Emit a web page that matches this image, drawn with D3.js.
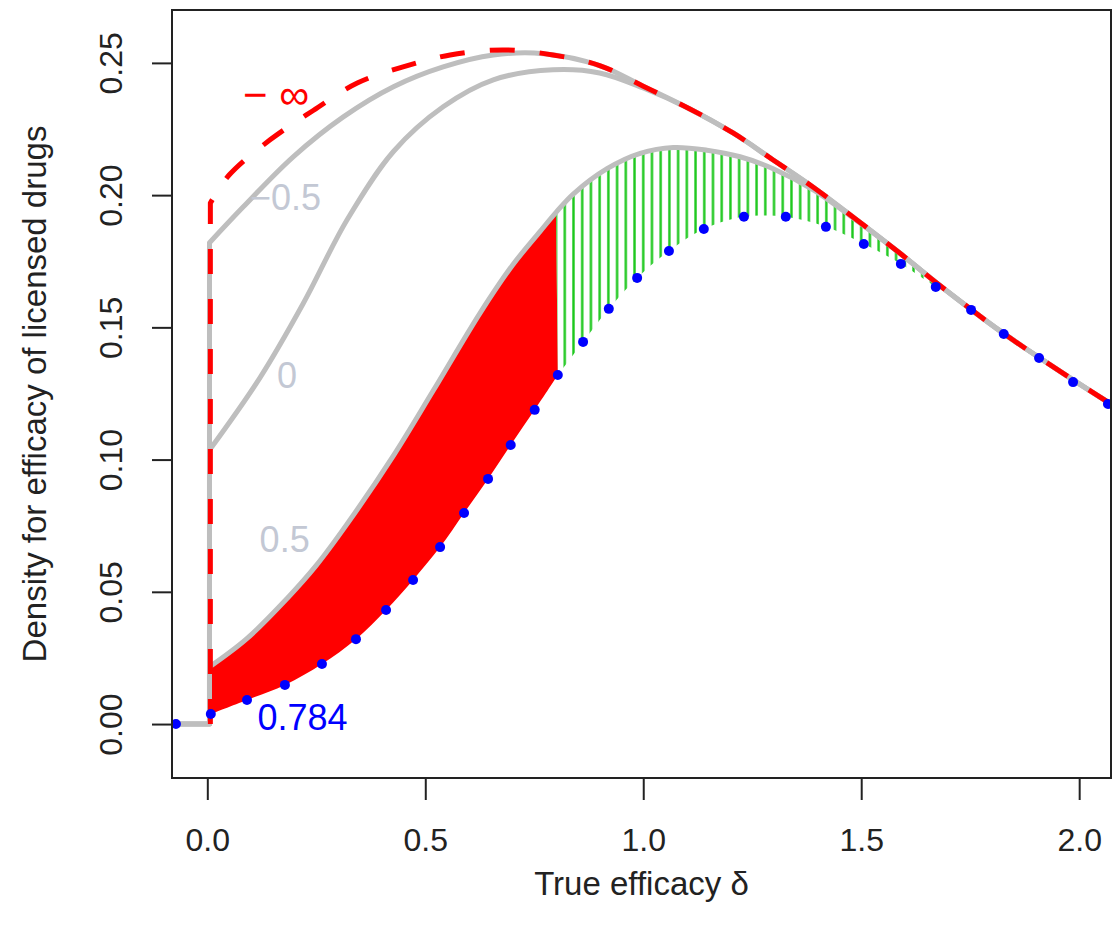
<!DOCTYPE html>
<html>
<head>
<meta charset="utf-8">
<script src="https://cdn.jsdelivr.net/npm/d3@7"></script>
<style>
  body { margin: 0; background: #fff; }
  text { font-family: "Liberation Sans", Arial, Helvetica, sans-serif; }
</style>
</head>
<body>
<div id="chart"></div>
<script>
// curves, [delta, density]; each starts right after the jump at 0
const curveNegInf = [
  [0.007, 0.197], [0.05, 0.2076], [0.144, 0.2209], [0.243, 0.232],
  [0.344, 0.2424], [0.449, 0.2485], [0.557, 0.253], [0.679, 0.2549], [0.793, 0.253],
  [0.9, 0.249], [1.0, 0.2412], [1.107, 0.2326], [1.206, 0.2235], [1.298, 0.2133],
  [1.39, 0.203], [1.49, 0.1906], [1.589, 0.178], [1.673, 0.1668], [1.825, 0.1479],
  [1.979, 0.1309], [2.073, 0.121]
]
const curveNegHalf = [
  [0.005, 0.182], [0.082, 0.1955], [0.197, 0.2145],
  [0.312, 0.2296], [0.427, 0.241], [0.541, 0.2485], [0.656, 0.253], [0.771, 0.2535],
  [0.9, 0.249], [1.0, 0.2412], [1.107, 0.2326], [1.206, 0.2235], [1.298, 0.2133],
  [1.39, 0.203], [1.49, 0.1906], [1.589, 0.178], [1.673, 0.1668], [1.825, 0.1479],
  [1.979, 0.1309], [2.073, 0.121]
]
const curveZero = [
  [0.005, 0.1036], [0.121, 0.131], [0.22, 0.159],
  [0.32, 0.1905], [0.427, 0.2165], [0.541, 0.2334], [0.656, 0.2436], [0.793, 0.2474],
  [0.9, 0.2462], [1.0, 0.2405], [1.107, 0.2326], [1.206, 0.2235], [1.298, 0.2133],
  [1.39, 0.203], [1.49, 0.1906], [1.589, 0.178], [1.673, 0.1668], [1.825, 0.1479],
  [1.979, 0.1309], [2.073, 0.121]
]
const curveHalf = [
  [0.005, 0.0216], [0.09, 0.0322], [0.183, 0.0475], [0.25, 0.060], [0.32, 0.0755],
  [0.427, 0.1015], [0.518, 0.126], [0.626, 0.1555], [0.7, 0.1735], [0.763, 0.1862],
  [0.8, 0.1935], [0.84, 0.2005], [0.917, 0.21], [0.993, 0.2158], [1.069, 0.218],
  [1.146, 0.217], [1.222, 0.2145], [1.298, 0.21], [1.39, 0.202], [1.49, 0.1903],
  [1.589, 0.178], [1.673, 0.1668], [1.825, 0.1479], [1.979, 0.1309], [2.073, 0.121]
]
const points784 = [
  [-0.072, 0], [0.008, 0.0038], [0.091, 0.0091], [0.178, 0.0148], [0.263, 0.0227],
  [0.341, 0.0321], [0.41, 0.0431], [0.472, 0.0545], [0.534, 0.0669], [0.589, 0.0798],
  [0.644, 0.0927], [0.696, 0.1055], [0.751, 0.1188], [0.804, 0.132], [0.862, 0.1445],
  [0.921, 0.157], [0.986, 0.1687], [1.059, 0.1789], [1.139, 0.1872], [1.231, 0.1918],
  [1.327, 0.1918], [1.419, 0.188], [1.506, 0.1815], [1.591, 0.174], [1.671, 0.1653],
  [1.752, 0.1566], [1.827, 0.1475], [1.908, 0.1384], [1.986, 0.1293], [2.066, 0.121]
]
const xTicks = [0, 0.5, 1, 1.5, 2]
const yTicks = [0, 0.05, 0.1, 0.15, 0.2, 0.25]
const redRange = [0.005, 0.804]
const greenRange = [0.8, 1.673]
const hatchStep = 0.02
const flatStart = -0.08

const width = 1113, height = 936
const plot = { left: 172, right: 1111, top: 10, bottom: 778 }

const svg = d3.select('#chart').append('svg')
  .attr('width', width).attr('height', height)

const x = d3.scaleLinear().domain([-0.081, 2.073]).range([plot.left, plot.right])
const y = d3.scaleLinear().domain([-0.0204, 0.27]).range([plot.bottom, plot.top])

const straight = d3.line().x(d => x(d[0])).y(d => y(d[1]))
const smooth = d3.line().x(d => x(d[0])).y(d => y(d[1])).curve(d3.curveCatmullRom.alpha(0.5))
const inRange = (pts, r) => pts.filter(d => d[0] >= r[0] && d[0] <= r[1])

// flat at zero, straight up at delta=0, then the smooth curve
function curvePath(c, from) {
  return straight([[from, 0], [c[0][0], 0], c[0]]) + 'L' + smooth(c).slice(1)
}
function band(top, bottom) {
  return smooth(top) + 'L' + smooth(bottom.slice().reverse()).slice(1) + 'Z'
}

const defs = svg.append('defs')
defs.append('clipPath').attr('id', 'clip').append('rect')
  .attr('x', plot.left).attr('y', plot.top)
  .attr('width', plot.right - plot.left).attr('height', plot.bottom - plot.top)

const step = x(hatchStep) - x(0)
const hatch = defs.append('pattern').attr('id', 'hatch')
  .attr('patternUnits', 'userSpaceOnUse')
  .attr('x', x(greenRange[0]) - step / 2).attr('y', 0)
  .attr('width', step).attr('height', height)
hatch.append('line')
  .attr('x1', step / 2).attr('x2', step / 2).attr('y1', 0).attr('y2', height)
  .attr('stroke', '#1dc81d').attr('stroke-width', 2.4)

const g = svg.append('g').attr('clip-path', 'url(#clip)')

// shaded areas between the 0.5 curve and the 0.784 curve
g.append('path')
  .attr('d', band(inRange(curveHalf, redRange), inRange(points784, redRange)))
  .attr('fill', '#ff0000')
g.append('path')
  .attr('d', band(inRange(curveHalf, greenRange), inRange(points784, greenRange)))
  .attr('fill', 'url(#hatch)')

// grey curves
for (const c of [curveHalf, curveZero, curveNegHalf]) {
  g.append('path').attr('d', curvePath(c, flatStart))
    .attr('fill', 'none').attr('stroke', '#bebebe').attr('stroke-width', 5)
    .attr('stroke-linejoin', 'round')
}

g.append('path').attr('d', curvePath(curveNegInf, curveNegInf[0][0]))
  .attr('fill', 'none').attr('stroke', '#ff0000').attr('stroke-width', 5)
  .attr('stroke-dasharray', '25,25')

g.selectAll('circle').data(points784).enter().append('circle')
  .attr('cx', d => x(d[0])).attr('cy', d => y(d[1])).attr('r', 5)
  .attr('fill', '#0000ff')

// axes
const xAxis = svg.append('g').attr('transform', `translate(0,${plot.bottom})`)
  .call(d3.axisBottom(x).tickValues(xTicks).tickSize(22).tickFormat(d3.format('.1f')))
xAxis.select('.domain').remove()
xAxis.selectAll('line').attr('stroke', '#222').attr('stroke-width', 2)
xAxis.selectAll('text').attr('y', 73).attr('dy', 0)
  .attr('font-size', 32).attr('fill', '#222')

const yAxis = svg.append('g').attr('transform', `translate(${plot.left},0)`)
  .call(d3.axisLeft(y).tickValues(yTicks).tickSize(20).tickFormat(d3.format('.2f')))
yAxis.select('.domain').remove()
yAxis.selectAll('line').attr('stroke', '#222').attr('stroke-width', 2)
yAxis.selectAll('text')
  .attr('transform', 'rotate(-90)')
  .attr('x', 0).attr('y', -50).attr('dy', 0)
  .attr('text-anchor', 'middle')
  .attr('font-size', 32).attr('fill', '#222')

svg.append('rect')
  .attr('x', plot.left).attr('y', plot.top)
  .attr('width', plot.right - plot.left).attr('height', plot.bottom - plot.top)
  .attr('fill', 'none').attr('stroke', '#222').attr('stroke-width', 2)

svg.append('text')
  .attr('x', (plot.left + plot.right) / 2).attr('y', 895)
  .attr('text-anchor', 'middle').attr('font-size', 33).attr('fill', '#222')
  .text('True efficacy δ')

svg.append('text')
  .attr('transform', `translate(46,${(plot.top + plot.bottom) / 2}) rotate(-90)`)
  .attr('text-anchor', 'middle').attr('font-size', 33).attr('fill', '#222')
  .text('Density for efficacy of licensed drugs')

// curve labels
const labels = [
  { text: '− ∞', at: [0.082, 0.2325], color: '#ff0000', size: 42 },
  { text: '−0.5', at: [0.098, 0.1945], color: '#c3c8d4', size: 36 },
  { text: '0', at: [0.16, 0.127], color: '#c3c8d4', size: 36 },
  { text: '0.5', at: [0.12, 0.065], color: '#c3c8d4', size: 36 },
  { text: '0.784', at: [0.115, -0.0023], color: '#0000ff', size: 36 }
]
svg.selectAll('.lab').data(labels).enter().append('text')
  .attr('class', 'lab')
  .attr('x', d => x(d.at[0])).attr('y', d => y(d.at[1]))
  .attr('font-size', d => d.size).attr('fill', d => d.color)
  .text(d => d.text)
</script>
</body>
</html>
